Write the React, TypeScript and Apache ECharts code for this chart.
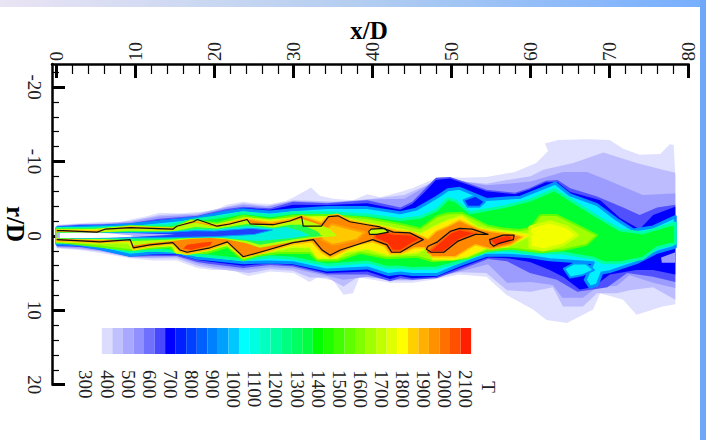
import React, { useEffect, useRef } from "react";
import * as echarts from "echarts";

// All contour points are [x/D, r/D]
const xMajor = [0, 10, 20, 30, 40, 50, 60, 70, 80];
const xMinor = [2, 4, 6, 8, 12, 14, 16, 18, 22, 24, 26, 28, 32, 34, 36, 38, 42, 44, 46, 48, 52, 54, 56, 58, 62, 64, 66, 68, 72, 74, 76, 78];
const rMajor = [-20, -10, 0, 10, 20];
const rMinor = [-22, -18, -16, -14, -12, -8, -6, -4, -2, 2, 4, 6, 8, 12, 14, 16, 18];
const legendLevels = ["300", "350", "400", "450", "500", "550", "600", "650", "700", "750", "800", "850", "900", "950", "1000", "1050", "1100", "1150", "1200", "1250", "1300", "1350", "1400", "1450", "1500", "1550", "1600", "1650", "1700", "1750", "1800", "1850", "1900", "1950", "2000", "2050", "2100"];
const legendColors = ["", "", "#dcdcff", "#c0c0ff", "#a8a8ff", "#9090ff", "#7070ff", "#4848ff", "#0000ff", "#0020ff", "#0040ff", "#0060ff", "#0080ff", "#00a0ff", "#00c8ff", "#00ffff", "#00ffe0", "#00ffc0", "#00ffa0", "#00ff80", "#00ff60", "#00ff40", "#00ff00", "#20ff00", "#40ff00", "#60ff00", "#80ff00", "#a0ff00", "#c0ff00", "#e0ff00", "#ffff00", "#ffd000", "#ffb000", "#ff9000", "#ff7000", "#ff5000", "#ff2000"];

const t400 = [[0,-1.5],[2.9,-1.7],[6,-1.9],[8,-1.8],[9.3,-2.2],[11.3,-2.6],[13,-3.1],[15.5,-3],[17.8,-3.2],[20,-3.4],[21.5,-4.2],[23.6,-4.6],[25,-4.4],[27,-4.3],[29,-4.7],[30,-5.2],[31.2,-5.9],[32.2,-6.5],[33.3,-5.4],[35,-5],[37.5,-4.8],[39.3,-5.6],[41,-5.2],[43.8,-6],[45,-6.4],[47,-7.3],[48.5,-7.9],[51.4,-7.8],[54.4,-7.9],[56,-8.2],[58,-8.6],[60.7,-9.8],[62.2,-11.4],[61.8,-12.4],[63.5,-12.9],[67,-13],[70,-12.9],[71.7,-11.7],[73.8,-10.9],[76.4,-11],[77.6,-12.3],[78.1,-12.2],[78.3,-8],[78.3,9.2],[76.7,9.5],[73.4,10.6],[71.7,8.6],[68.8,7.7],[67.9,9.9],[64.6,11.7],[62,11.3],[60.3,9.9],[56.9,7.9],[54.4,5.5],[51,5.2],[47.6,5.9],[45,6.3],[42.2,6.3],[40,5.9],[38.3,5.6],[37.5,7.7],[36.3,7.9],[35,6],[33,5.6],[32,6.2],[30,5],[27,4.8],[24.3,5.4],[23.6,5.2],[22.3,4.6],[19.8,4.6],[17.8,4.3],[15.2,3.3],[12.2,3.3],[9.3,3],[5.5,2.3],[2.9,1.9],[0,1.7]];
const t450 = [[0,-1.4],[2.9,-1.6],[6,-1.7],[9.3,-2],[13,-2.8],[17.8,-3],[21.5,-3.9],[23.6,-4.4],[26.6,-4],[30,-4.8],[33,-4.7],[37.5,-4.5],[40,-5],[44,-5.5],[47,-6.9],[48.5,-7.7],[51.4,-7.3],[54.4,-7],[57,-7.5],[60,-8],[61.6,-8.9],[65.4,-9.8],[69.2,-11.2],[73.4,-9.8],[76.7,-8.9],[78.3,-8.5],[78.3,8.6],[75.5,6.9],[72.5,7.3],[70.9,7.7],[68.4,7.7],[66.6,9.5],[64.1,9.5],[62.8,6.9],[60,7.5],[57,7.3],[54.4,5],[51,4.9],[47.6,5.6],[45,6],[42.2,6],[40,5.6],[38.3,5.4],[36.3,6.8],[34.2,5.6],[32,5.6],[29.9,4.7],[27,4.5],[24.3,5],[23.6,4.9],[19.8,4.4],[17.8,4],[15.2,3],[12.2,3],[9.3,2.9],[5.5,2.1],[2.9,1.8],[0,1.6]];
const t550 = [[0,-1.35],[2.9,-1.55],[6,-1.6],[9.3,-1.85],[13,-2.6],[17.8,-2.85],[21.5,-3.8],[23.6,-4.2],[26.6,-3.9],[29.9,-4.7],[34.2,-4.5],[39.3,-4.9],[44,-5],[46.5,-6.5],[48,-7.6],[50,-7.7],[52,-7.2],[54.4,-6.8],[57,-7],[60,-7.3],[64.1,-8.6],[67.1,-8.6],[69.7,-7.5],[71.7,-6.6],[74.2,-5.5],[78,-5.7],[78.3,-5.7],[78.3,7],[75.5,6.3],[72.5,5.3],[70.9,6.7],[68.4,6.9],[66.6,8.3],[64,8.3],[62.8,6.6],[60,6.2],[57,6.3],[54.6,3.8],[51,4.8],[47.6,5.5],[45,5.9],[42.2,5.9],[39.3,5.5],[36.3,5.9],[34.2,5.4],[29.9,4.4],[27,4.2],[23.6,4.6],[19.8,4.1],[17.8,3.7],[15.2,2.8],[12.2,2.9],[9.3,2.85],[5.5,2],[2.9,1.65],[0,1.5]];
const t650 = [[0,-1.3],[2.9,-1.5],[6,-1.55],[9.3,-1.7],[13,-2.3],[17.8,-2.7],[21.5,-3.6],[23.6,-3.9],[27,-3.7],[29.9,-4.6],[34.2,-4.4],[39.3,-4.8],[43.5,-3.8],[45,-4.6],[46.5,-6.2],[48,-7.8],[49.8,-7.9],[52,-7.1],[54.4,-6.2],[58,-5.8],[59.8,-6.4],[61.9,-7.4],[63.4,-7.5],[65,-6.4],[68.4,-5.3],[71.7,-3.8],[73.8,-2.8],[76,-3.8],[78.3,-4.2],[78.3,6.2],[75.5,5.5],[72.2,5],[69.7,6.9],[67.9,7.2],[65.9,7.5],[63.3,5.9],[59.9,5],[57,3.4],[54.6,3.1],[51,4.6],[48.1,5.7],[45,5.9],[43.5,5.7],[42.2,6.1],[39.3,5.2],[34.2,5.2],[29.9,4.1],[27,3.9],[23.6,4.3],[19,3.7],[17.8,3.5],[15.2,2.7],[12,2.7],[9.3,2.8],[5.5,1.9],[2.9,1.5],[0,1.4]];
const t700 = [[0,-1.2],[2.9,-1.4],[6,-1.45],[9.3,-1.6],[13,-2.1],[17.8,-2.55],[21.5,-3.3],[23.6,-3.75],[27,-3.5],[29.9,-4.2],[34.2,-4.15],[39.3,-4.4],[43.5,-3.5],[45,-4.3],[46.5,-5.8],[48,-7.5],[49.8,-7.7],[52,-6.9],[54.4,-6],[58,-5.6],[59.8,-6.2],[61.9,-7.2],[63.4,-7.2],[65,-5.9],[68.8,-4.8],[71.3,-2.4],[73.8,-0.9],[75.5,-2.8],[78.3,-3.9],[78.3,5.2],[75.5,4.6],[73.4,4.6],[70,5.2],[67.9,6.9],[66.2,7.2],[64.1,5.5],[62.4,4.6],[59.9,3.5],[57,3],[54.6,2.9],[51,4.3],[48.1,5.5],[45,5.7],[43.5,5.4],[42.2,5.8],[39.3,4.8],[34.2,5],[29.9,3.9],[27,3.7],[23.6,4],[19,3.4],[17.8,3.25],[15.2,2.5],[12,2.55],[9.3,2.7],[5.5,1.75],[2.9,1.4],[0,1.3]];
const t1000 = [[0,-1.05],[2.9,-1.2],[6,-1.3],[9.3,-1.5],[13,-1.9],[17.8,-2.4],[21,-3.1],[23.6,-3.5],[27,-3.2],[29.9,-3.5],[34.2,-3.8],[39.3,-3.8],[43.5,-3.1],[45.5,-3.6],[48.1,-5.2],[49.5,-6.2],[51,-6.4],[54.4,-4.9],[58.7,-5.2],[63.1,-7.1],[65,-5.5],[68.4,-4.2],[70.9,-2.2],[73,-0.8],[75.5,-1.2],[78.3,-2.6],[78.3,1.5],[76,2.2],[73.4,3.6],[70,4.8],[69,5],[68.4,6.6],[67.5,6.9],[66.9,5.9],[67.9,3.6],[62.4,3.2],[59.9,2.8],[57,2.6],[54.4,2.6],[51,3.9],[48.1,5.2],[45,5.2],[43.5,5],[42,5.2],[39.3,4.3],[34.2,4.6],[29.9,3.6],[27,3.5],[23.6,3.6],[19,3.1],[17.8,3],[15,2.2],[12,2.3],[9.3,2.6],[5,1.6],[2.9,1.2],[0,1.1]];
const coolSpot = [[64.2,4.4],[65.5,3.7],[67,3.7],[68,4.6],[66.5,5.3],[65,5.6]];
const upperPocket = [[51.5,-4.8],[53,-5.4],[54.2,-4.6],[53.5,-3.9],[52,-3.9]];
const rightPocket = [[76.5,2.9],[78.3,2.2],[78.3,3.6],[76.6,3.6]];
const t1400 = [[0,-1],[2.9,-1],[9.3,-1.2],[14,-1.4],[17.8,-2.2],[21,-2.6],[23.6,-3.1],[27,-2.7],[29.9,-3.1],[34.2,-3.1],[39.3,-2.8],[43.5,-2.2],[46,-2.5],[48.1,-3.5],[49.5,-5],[50.5,-4.7],[52.3,-3.1],[56.5,-3.9],[59.9,-4.8],[63,-6.2],[65.4,-4.6],[68.4,-2.6],[71.3,-0.8],[74.2,-0.4],[78.3,-1.7],[78.3,1],[76,1.6],[74.2,3],[71.3,3.6],[69.2,3.6],[67.9,3],[64.1,2.3],[59.9,2.3],[56.5,1.9],[54,2.2],[51,3.5],[48.1,4.3],[45,4.4],[43.5,4.2],[41.7,4.2],[39.3,3.5],[34.2,3.9],[29.9,3],[27,2.8],[23.6,3.2],[19,2.7],[17.8,2.6],[15.2,2.1],[12.2,1.9],[9.3,2.1],[5.5,1.3],[2.9,0.9],[0,0.85]];
const t1600 = [[0,-0.85],[5.5,-0.9],[9.3,-1.3],[14.7,-1.1],[17,-2.1],[20.3,-1.7],[23.6,-2.7],[27,-2.2],[29.9,-2.7],[34.2,-2.8],[39.3,-2.4],[43.5,-1.6],[46,-1],[48.1,-2.6],[49.4,-3],[51.3,-3.1],[54.5,-1.4],[56.5,-1],[58.6,-0.8],[60,-1.1],[61.2,-2.8],[63.3,-2.8],[65.4,-1.7],[68.4,-0.1],[67.1,1.2],[64.1,1.9],[61.2,2.2],[57.5,1.7],[54.5,2],[52,3],[47.6,3.4],[45.6,2.8],[41.8,3],[38.4,2.3],[35.5,3.3],[33,3.3],[32,2.3],[28.3,2.3],[25.7,2.6],[23.6,3.2],[21.6,1.5],[19,2.3],[15.2,2.3],[14.3,1.5],[9.3,1.9],[0.8,0.9],[0,0.85]];
const t1750 = [[0,-0.8],[5,-0.85],[9.3,-1.25],[14.7,-1],[17,-2],[20.3,-1.5],[24,-2.4],[27,-2.1],[31,-2.5],[35.6,-2.6],[38,-2],[41,-1.4],[44,-0.8],[46,-0.3],[48,-1.4],[49.5,-2.1],[51.3,-2.7],[53.2,-1.2],[55.2,-0.8],[57.8,-0.5],[60.3,-0.2],[57,1.5],[54.5,1.6],[52,2.8],[50.2,3.2],[47.6,3.2],[46.9,1.6],[45.6,2.3],[41.8,2.6],[39.3,1.8],[36.7,2.2],[35.5,3],[33,3],[32,1.6],[29.9,1.5],[25.7,2.4],[23.6,3],[21.5,1.2],[19.4,1.9],[16.5,2.5],[15,2.2],[14.7,1.3],[11.8,1.5],[9.7,1.9],[9,0.9],[5.5,1],[0,0.8]];
const yellowCore = [[59.9,-1.2],[62.4,-1.9],[64.6,-1.2],[65.9,-0.1],[64.1,1.2],[61.6,1.9],[59.9,1.5]];
const t1900 = [[0,-0.75],[5,-0.7],[9.3,-1.2],[14.7,-1],[17.3,-2],[20.3,-1.4],[24,-2.3],[27,-1.8],[29.5,-2.2],[31,-2.7],[33.5,-1.8],[34.4,-2.7],[35.6,-2.9],[37.1,-2.1],[39.3,-1.6],[41,-1.3],[43,-0.7],[45,-0.5],[47,0.4],[48,-0.6],[49.5,-1.3],[51,-2.1],[52,-1.6],[53.5,-0.9],[55,-0.6],[57.8,-0.2],[59,0.1],[57.5,1.2],[55,1.8],[53,1.2],[52,1.8],[50.5,2.8],[47.5,2.8],[46.5,1.6],[45.3,1.6],[43.5,2.4],[42.2,2.4],[41.5,1.4],[40,0.8],[38,1.2],[36,2.2],[34.6,2.9],[33.5,2.2],[32.3,0.8],[29.9,1.1],[25.7,2.4],[23.6,2.9],[21.6,1],[19.4,1.8],[16.5,2.4],[15.6,2.1],[14.7,1.1],[11.8,1.4],[9.7,1.8],[9.3,0.7],[5.5,0.9],[0,0.7]];
const warmInterior = [[34.8,-1.6],[37,-1],[39,-0.5],[38,0.5],[36,1],[35,1.2],[33.5,0.5],[33.8,-0.5]];
const red1 = [[40.5,-0.8],[42.6,-0.3],[44.7,-0.2],[46.1,0.4],[45,1],[43.5,2],[42.5,2],[41.8,1],[40.2,0.3]];
const red2 = [[47,2.2],[49.8,-0.4],[51,-0.9],[53.2,-0.4],[51,0.5],[48.9,2.2]];
const red3 = [[54.8,0.5],[57,-0.1],[57.8,0.1],[57.4,0.8],[55.5,1.3]];
const redBand = [[16.5,1.2],[18.5,0.9],[19.7,0.8],[19.4,1.3],[17,1.9],[16,1.7]];
const coreYellowGreen = [[0,-0.6],[5.1,-0.4],[6.1,-0.8],[9.3,-1],[14.7,-0.8],[15.2,-1.2],[17.5,-1.8],[20.3,-1.2],[21.9,-1.5],[24.1,-2.1],[24.7,-1.5],[27.4,-1.4],[29.5,-1.9],[31,-2.3],[33,-1.6],[34.5,-1],[35.5,0],[32.6,0.3],[29.9,0.8],[25.7,1.6],[24,1],[21.6,0.5],[19.5,0.3],[17,0.4],[14.7,0.7],[11.8,1],[9.7,1.3],[9.3,0.4],[5.5,0.6],[0,0.4]];
const coreGreen = [[0,-0.5],[5.1,-0.35],[6.1,-0.5],[9.3,-0.7],[14.7,-0.6],[17.5,-1.2],[20.3,-1],[24.1,-1.6],[27.4,-1.1],[29.5,-1.5],[31,-1.5],[33,-0.6],[33.5,0],[32,0.2],[29.9,0.5],[25.7,1.2],[24,0.7],[21.6,0.35],[19.5,0.2],[17,0.3],[14.7,0.5],[9.7,0.7],[5.5,0.4],[0,0.35]];
const coreCyan = [[0,-0.42],[5.5,-0.4],[14.3,-0.55],[17.5,-0.9],[20,-0.85],[24,-1.3],[27.4,-1],[29,-1.2],[30.8,-0.7],[32,-0.1],[30,0.25],[25.7,0.7],[21,0.25],[17,0.2],[14.3,0.35],[5.5,0.35],[0,0.3]];
const coreBlue = [[1.7,-0.33],[14.3,-0.5],[17.5,-0.7],[20,-0.65],[24.5,-1],[27.3,-0.8],[25,-0.2],[20,0.1],[14.3,0.25],[1.7,0.28]];
const coreLight = [[0,-0.4],[9.3,-0.38],[15,-0.2],[9.3,0.2],[0,0.3]];
const coreWhite = [[0.4,-0.4],[4,-0.42],[6.5,-0.35],[9.3,-0.1],[9.7,0],[9.3,0.1],[6.5,0.25],[4,0.3],[0.4,0.3]];
const lineMain = [[0,-0.7],[0.8,-0.7],[5.1,-0.5],[6.1,-0.9],[9.3,-1.1],[14.7,-0.9],[15.2,-1.3],[17.3,-1.9],[17.8,-2.2],[20.3,-1.3],[21.9,-1.6],[24.1,-2.2],[24.5,-1.6],[27.4,-1.5],[29.5,-2],[31,-2.6],[31.2,-1.3],[33.5,-1.3],[34.4,-2.6],[35.6,-2.7],[37.1,-1.9],[39.3,-1.5],[40.9,-1.2],[42.6,-0.5],[44.7,-0.4],[46.4,0.5],[45.1,1.2],[43.5,2.2],[42.4,2.2],[41.8,1.2],[40,0.5],[35.9,1.9],[34.6,2.6],[33.6,1.9],[32.5,0.5],[29.9,0.9],[25.7,2.2],[23.6,2.8],[21.6,0.8],[19.4,1.6],[16.5,2.2],[15.6,1.9],[14.7,0.9],[11.8,1.2],[9.7,1.6],[9.3,0.5],[5.5,0.8],[0,0.5]];
const lineHole = [[39.8,-0.9],[41.5,-1],[42,-0.5],[40.5,-0.2],[39.6,-0.2],[39.5,-0.6]];
const lineIsland2 = [[47,1.4],[48.2,0.8],[49.8,-0.6],[51,-1],[52.6,-0.9],[54.6,-0.2],[53,-0.2],[50.8,0.7],[49,2.2],[47.4,2.2],[46.8,1.8]];
const lineIsland3 = [[54.8,0.5],[56.5,-0.1],[57.9,-0.1],[57.8,0.5],[56,1],[55.3,1.4],[54.9,1]];

const shapes: any[] = [
  { pts: t400, fill: "#dfdfff" },
  { pts: t450, fill: "#bcbcff" },
  { pts: t550, fill: "#9c9cff" },
  { pts: t650, fill: "#5050ff" },
  { pts: t700, fill: "#0000ff" },
  { pts: rightPocket, fill: "#9c9cff" },
  { pts: t1000, fill: "#00f0ff", stroke: "#0090ff", w: 3 },
  { pts: upperPocket, fill: "#0020ff", stroke: "#0090ff", w: 2 },
  { pts: t1400, fill: "#00ff30", stroke: "#00ffa0", w: 3 },
  { pts: coolSpot, fill: "#00f0ff", stroke: "#0090ff", w: 2 },
  { pts: t1600, fill: "#a0ff00", stroke: "#60ff00", w: 2 },
  { pts: yellowCore, fill: "#f4ff00", stroke: "#d0ff00", w: 3 },
  { pts: t1750, fill: "#ffee00", stroke: "#d0ff00", w: 1.5 },
  { pts: t1900, fill: "#ff8800", stroke: "#ffc000", w: 1.5 },
  { pts: warmInterior, fill: "#ffc800", stroke: "#ffa000", w: 2 },
  { pts: red1, fill: "#ff3000", stroke: "#ff6000", w: 2 },
  { pts: red2, fill: "#ff3000", stroke: "#ff6000", w: 2 },
  { pts: red3, fill: "#ff3000", stroke: "#ff6000", w: 2 },
  { pts: coreYellowGreen, fill: "#b8ff00" },
  { pts: coreGreen, fill: "#20ff50" },
  { pts: coreCyan, fill: "#00f0e0" },
  { pts: coreBlue, fill: "#2040ff", stroke: "#00a0ff", w: 1 },
  { pts: coreLight, fill: "#b0b0ff" },
  { pts: coreWhite, fill: "#ffffff" },
  { pts: redBand, fill: "#ff4000" },
  { pts: lineHole, fill: "#c8ff00", stroke: "#101010", w: 1.2 },
  { pts: lineMain, fill: "none", stroke: "#101010", w: 1.2, open: true },
  { pts: lineIsland2, fill: "none", stroke: "#101010", w: 1.2 },
  { pts: lineIsland3, fill: "none", stroke: "#101010", w: 1.2 },
];

const FONT = "Liberation Serif";
const LABEL = { color: "#222", fontFamily: FONT, fontSize: 19, rotate: -90 };

export default function App() {
  const ref = useRef<HTMLDivElement>(null);
  useEffect(() => {
    const chart = echarts.init(ref.current!, null, { renderer: "svg" });
    const band = (pos: string, ticks: number[], len: number, width: number, labels: any) => ({
      type: "value", gridIndex: 0, position: pos,
      axisLine: { show: labels !== null, onZero: false, lineStyle: { color: "#000", width: 2.5 } },
      axisTick: { show: true, inside: true, length: len, customValues: ticks, lineStyle: { color: "#000", width } },
      axisLabel: labels ? { ...LABEL, ...labels } : { show: false },
      splitLine: { show: false },
    });
    chart.setOption({
      animation: false,
      backgroundColor: "#ffffff",
      grid: [
        { left: 52, top: 64, width: 636.7, height: 320.7 },
        { left: 80.7, top: 328, width: 390.4, height: 26 },
      ],
      xAxis: [
        { ...band("top", xMajor, 14, 3, { customValues: xMajor, margin: 3 }), min: -0.6, max: 80 },
        { ...band("top", xMinor, 10, 1.2, null), min: -0.6, max: 80 },
        { type: "category", gridIndex: 1, position: "bottom", data: legendLevels,
          axisLine: { show: false }, axisTick: { show: false },
          axisLabel: { ...LABEL, interval: 1, margin: 16 } },
      ],
      yAxis: [
        { ...band("left", rMajor, 13, 3, { customValues: rMajor, margin: 8 }), min: -23.1, max: 20, inverse: true },
        { ...band("left", rMinor, 7, 1.2, null), min: -23.1, max: 20, inverse: true },
        { type: "value", gridIndex: 1, min: 0, max: 1, show: false },
      ],
      series: [
        {
          type: "custom", xAxisIndex: 0, yAxisIndex: 0, clip: false, silent: true,
          encode: { x: 0, y: 1 },
          data: shapes.map((s, i) => [s.pts[0][0], s.pts[0][1], i]),
          renderItem: (_p: any, api: any) => {
            const s = shapes[api.value(2)];
            return {
              type: s.open ? "polyline" : "polygon",
              shape: { points: s.pts.map((p: number[]) => api.coord(p)) },
              style: { fill: s.fill, stroke: s.stroke || null, lineWidth: s.w || 0, lineJoin: "round" },
            };
          },
        },
        {
          type: "bar", xAxisIndex: 2, yAxisIndex: 2, barWidth: "100%", silent: true,
          data: legendColors.map((c) => (c ? { value: 1, itemStyle: { color: c } } : { value: 0 })),
        },
      ],
      graphic: [
        { type: "rect", z: 100, shape: { x: 0, y: 0, width: 706, height: 7 }, style: { fill: new echarts.graphic.LinearGradient(0, 0, 1, 0, [{ offset: 0, color: "#eae4f4" }, { offset: 0.5, color: "#b4cef0" }, { offset: 1, color: "#76aeff" }]) } },
        { type: "rect", z: 100, shape: { x: 700, y: 0, width: 6, height: 440 }, style: { fill: "#6fa8fa" } },
        { type: "text", z: 100, x: 369, y: 30, style: { text: "x/D", font: `bold 25px "${FONT}"`, fill: "#000", align: "center", verticalAlign: "middle" } },
        { type: "text", z: 100, x: 15, y: 224, rotation: -Math.PI / 2, style: { text: "r/D", font: `bold 25px "${FONT}"`, fill: "#000", align: "center", verticalAlign: "middle" } },
        { type: "text", z: 100, x: 488, y: 387, rotation: -Math.PI / 2, style: { text: "T", font: `19px "${FONT}"`, fill: "#222", align: "center", verticalAlign: "middle" } },
      ],
    });
    return () => chart.dispose();
  }, []);
  return <div ref={ref} style={{ position: "absolute", left: 0, top: 0, width: 706, height: 440 }} />;
}
